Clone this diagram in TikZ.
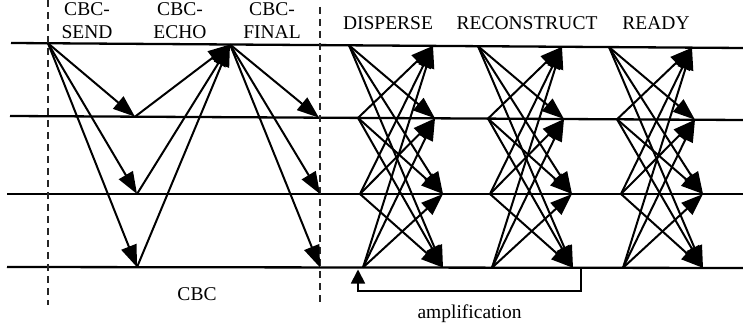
\documentclass[tikz,border=0pt]{standalone}
\usepackage{fontspec}
\setmainfont{Liberation Serif}
\usetikzlibrary{arrows.meta}
\begin{document}
\begin{tikzpicture}[x=1pt,y=-1pt,
  proc/.style={line width=2.3pt},
  msg/.style={line width=2pt,-{Triangle[length=22pt,width=16pt]}},
  phasesep/.style={dash pattern=on 7pt off 5pt, line width=1.2pt, black!85},
  lbl/.style={font=\fontsize{19.5}{23}\selectfont, inner sep=0pt, anchor=base},
  amp/.style={line width=1.8pt,-{Triangle[length=14pt,width=14pt]}}
]
\useasboundingbox (0,0) rectangle (743,328);

% process lines
\coordinate (L1a) at (11,43);  \coordinate (L1b) at (743,48);
\coordinate (L2a) at (10,116); \coordinate (L2b) at (743,120);
\coordinate (L3a) at (7,194);  \coordinate (L3b) at (743,194);
\coordinate (L4a) at (7,267);  \coordinate (L4b) at (743,268);
\draw[proc] (L1a) -- (L1b);
\draw[proc] (L2a) -- (L2b);
\draw[proc] (L3a) -- (L3b);
\draw[proc] (L4a) -- (L4b);

% phase separators
\coordinate (S1a) at (48,0);  \coordinate (S1b) at (48,305);
\coordinate (S2a) at (320,7); \coordinate (S2b) at (320,306);
\draw[phasesep] (S1a) -- (S1b);
\draw[phasesep] (S2a) -- (S2b);

% labels
\node[lbl] (cbc1a) at (87,15.5) {CBC-};
\node[lbl] (cbc1b) at (87,39) {SEND};
\node[lbl] (cbc2a) at (180,15.5) {CBC-};
\node[lbl] (cbc2b) at (180,39) {ECHO};
\node[lbl] (cbc3a) at (272,15.5) {CBC-};
\node[lbl] (cbc3b) at (272,39) {FINAL};
\node[lbl] (disp) at (388,29.5) {DISPERSE};
\node[lbl] (reco) at (527,29.5) {RECONSTRUCT};
\node[lbl] (ready) at (656,30) {READY};
\node[lbl] (cbc) at (197,300.5) {CBC};
\node[lbl] (ampl) at (469.5,318) {amplification};

% CBC
\coordinate (s)  at (48,43.3);
\coordinate (e2) at (135,116.7);
\coordinate (e3) at (137,194);
\coordinate (e4) at (137,267.2);
\coordinate (f)  at (230,44.5);
\coordinate (g2) at (319,117.7);
\coordinate (g3) at (320,194);
\coordinate (g4) at (320,267.4);
\foreach \k in {2,3,4}{
  \draw[msg] (s) -- (e\k);
  \draw[msg] (e\k) -- (f);
  \draw[msg] (f) -- (g\k);
}

% DISPERSE
\coordinate (Ds1) at (349,45.3); \coordinate (Dt1) at (433,45.9);
\coordinate (Ds2) at (358,117.9); \coordinate (Dt2) at (435,118.3);
\coordinate (Ds3) at (360,194); \coordinate (Dt3) at (443,194);
\coordinate (Ds4) at (363,267.5); \coordinate (Dt4) at (443,267.6);
% RECONSTRUCT
\coordinate (Rs1) at (478,46.2); \coordinate (Rt1) at (562,46.8);
\coordinate (Rs2) at (488,118.6); \coordinate (Rt2) at (564,119.0);
\coordinate (Rs3) at (490,194); \coordinate (Rt3) at (572,194);
\coordinate (Rs4) at (492,267.7); \coordinate (Rt4) at (573,267.8);
% READY
\coordinate (Ys1) at (609,47.1); \coordinate (Yt1) at (692,47.7);
\coordinate (Ys2) at (617,119.3); \coordinate (Yt2) at (695,119.7);
\coordinate (Ys3) at (621,194); \coordinate (Yt3) at (703,194);
\coordinate (Ys4) at (623,267.8); \coordinate (Yt4) at (703,267.9);

\foreach \ph in {D,R,Y}{
  \foreach \i in {1,...,4}{
    \foreach \j in {1,...,4}{
      \ifnum\i=\j\relax\else
        \draw[msg] (\ph s\i) -- (\ph t\j);
      \fi
    }
  }
}

% amplification
\coordinate (ampS) at (581,267.8);
\coordinate (ampT) at (358,269.5);
\draw[amp] (ampS) -- ++(0,23.5) -| (ampT);
\end{tikzpicture}
\end{document}
